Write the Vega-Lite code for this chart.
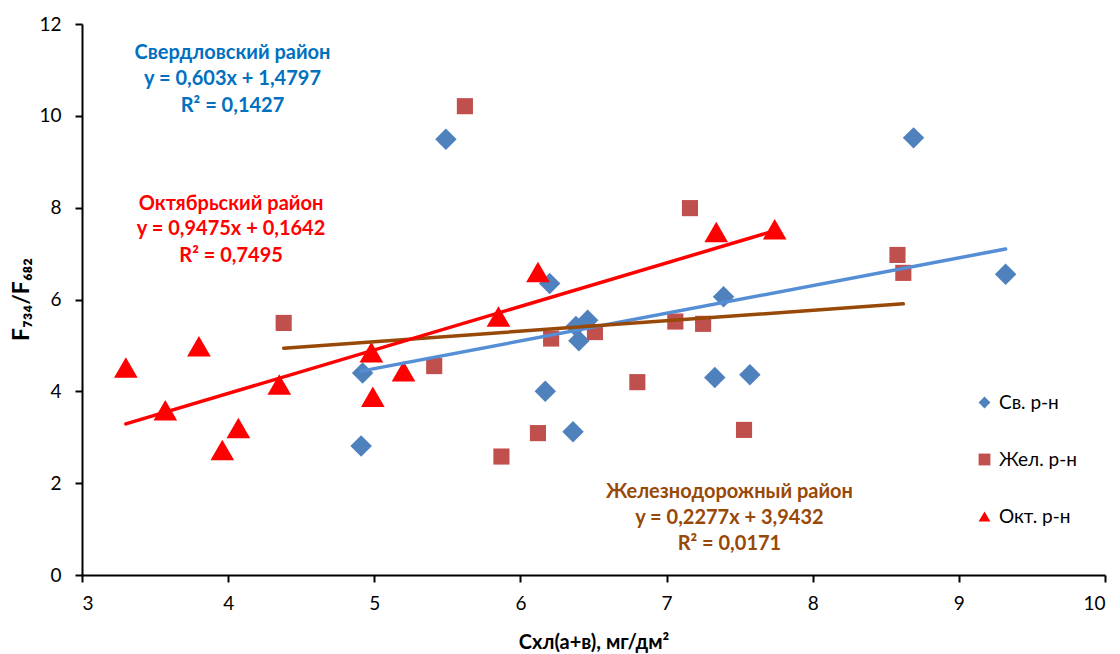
{
  "$schema": "https://vega.github.io/schema/vega-lite/v6.json",
  "width": 1023,
  "height": 551,
  "autosize": {"type": "none"},
  "padding": {"left": 82, "top": 24, "right": 15, "bottom": 79},
  "background": "white",
  "config": {
    "view": {"stroke": null},
    "font": "Lato",
    "legend": {
      "title": null, "orient": "none", "legendX": 893, "legendY": 369,
      "labelFontSize": 19, "labelColor": "black", "symbolSize": 140,
      "rowPadding": 37, "labelOffset": 5, "symbolStrokeWidth": 0
    }
  },
  "datasets": {
    "points": [
      {"series": "Св. р-н", "x": 4.91, "y": 2.81},
      {"series": "Св. р-н", "x": 4.92, "y": 4.40},
      {"series": "Св. р-н", "x": 5.49, "y": 9.49},
      {"series": "Св. р-н", "x": 6.20, "y": 6.35},
      {"series": "Св. р-н", "x": 6.17, "y": 4.00},
      {"series": "Св. р-н", "x": 6.36, "y": 3.12},
      {"series": "Св. р-н", "x": 6.40, "y": 5.10},
      {"series": "Св. р-н", "x": 6.38, "y": 5.41},
      {"series": "Св. р-н", "x": 6.46, "y": 5.55},
      {"series": "Св. р-н", "x": 7.39, "y": 6.06},
      {"series": "Св. р-н", "x": 7.33, "y": 4.30},
      {"series": "Св. р-н", "x": 7.57, "y": 4.36},
      {"series": "Св. р-н", "x": 8.69, "y": 9.52},
      {"series": "Св. р-н", "x": 9.32, "y": 6.55},
      {"series": "Жел. р-н", "x": 4.38, "y": 5.49},
      {"series": "Жел. р-н", "x": 5.41, "y": 4.55},
      {"series": "Жел. р-н", "x": 5.62, "y": 10.21},
      {"series": "Жел. р-н", "x": 5.87, "y": 2.58},
      {"series": "Жел. р-н", "x": 6.12, "y": 3.09},
      {"series": "Жел. р-н", "x": 6.21, "y": 5.15},
      {"series": "Жел. р-н", "x": 6.51, "y": 5.29},
      {"series": "Жел. р-н", "x": 6.80, "y": 4.20},
      {"series": "Жел. р-н", "x": 7.06, "y": 5.52},
      {"series": "Жел. р-н", "x": 7.16, "y": 7.99},
      {"series": "Жел. р-н", "x": 7.25, "y": 5.47},
      {"series": "Жел. р-н", "x": 7.53, "y": 3.16},
      {"series": "Жел. р-н", "x": 8.58, "y": 6.97},
      {"series": "Жел. р-н", "x": 8.62, "y": 6.58},
      {"series": "Окт. р-н", "x": 3.30, "y": 4.52},
      {"series": "Окт. р-н", "x": 3.57, "y": 3.59},
      {"series": "Окт. р-н", "x": 3.80, "y": 4.98},
      {"series": "Окт. р-н", "x": 3.96, "y": 2.72},
      {"series": "Окт. р-н", "x": 4.07, "y": 3.20},
      {"series": "Окт. р-н", "x": 4.35, "y": 4.15},
      {"series": "Окт. р-н", "x": 4.98, "y": 4.85},
      {"series": "Окт. р-н", "x": 4.99, "y": 3.88},
      {"series": "Окт. р-н", "x": 5.20, "y": 4.44},
      {"series": "Окт. р-н", "x": 5.85, "y": 5.63},
      {"series": "Окт. р-н", "x": 6.12, "y": 6.60},
      {"series": "Окт. р-н", "x": 7.34, "y": 7.47},
      {"series": "Окт. р-н", "x": 7.74, "y": 7.53}
    ],
    "trends": [
      {"series": "Св. р-н", "x": 4.91, "y": 4.440},
      {"series": "Св. р-н", "x": 9.32, "y": 7.100},
      {"series": "Жел. р-н", "x": 4.38, "y": 4.940},
      {"series": "Жел. р-н", "x": 8.62, "y": 5.906},
      {"series": "Окт. р-н", "x": 3.30, "y": 3.291},
      {"series": "Окт. р-н", "x": 7.74, "y": 7.498}
    ],
    "labelsSv": [
      {"x": 4.03, "y": 11.24, "text": "Свердловский район"},
      {"x": 4.03, "y": 10.68, "text": "y = 0,603x + 1,4797"},
      {"x": 4.03, "y": 10.09, "text": "R² = 0,1427"}
    ],
    "labelsOkt": [
      {"x": 4.02, "y": 7.95, "text": "Октябрьский район"},
      {"x": 4.02, "y": 7.40, "text": "y = 0,9475x + 0,1642"},
      {"x": 4.02, "y": 6.82, "text": "R² = 0,7495"}
    ],
    "labelsZh": [
      {"x": 7.43, "y": 1.67, "text": "Железнодорожный район"},
      {"x": 7.43, "y": 1.12, "text": "y = 0,2277x + 3,9432"},
      {"x": 7.43, "y": 0.54, "text": "R² = 0,0171"}
    ]
  },
  "encoding": {
    "x": {
      "field": "x", "type": "quantitative",
      "scale": {"domain": [3, 10], "nice": false, "zero": false},
      "axis": {
        "values": [3, 4, 5, 6, 7, 8, 9, 10],
        "format": "d",
        "title": "Схл(а+в), мг/дм²",
        "grid": false,
        "domainColor": "black", "domainWidth": 2,
        "tickColor": "black", "tickWidth": 2, "tickSize": 7,
        "labelFontSize": 19, "labelColor": "black", "labelPadding": 12,
        "titleFontSize": 20, "titleFontWeight": "bold", "titleColor": "black",
        "titleBaseline": "alphabetic", "titleY": 73
      }
    },
    "y": {
      "field": "y", "type": "quantitative",
      "scale": {"domain": [0, 12], "nice": false, "zero": true},
      "axis": {
        "values": [0, 2, 4, 6, 8, 10, 12],
        "format": "d",
        "title": "F₇₃₄/F₆₈₂",
        "grid": false,
        "domainColor": "black", "domainWidth": 2,
        "tickColor": "black", "tickWidth": 2, "tickSize": 7,
        "labelFontSize": 19, "labelColor": "black", "labelPadding": 14,
        "titleFontSize": 23, "titleFontWeight": "bold", "titleColor": "black",
        "titleBaseline": "alphabetic", "titleX": -54, "titleY": 275, "titleAngle": -90
      }
    }
  },
  "layer": [
    {
      "data": {"name": "points"},
      "transform": [{"filter": "datum.series === 'Св. р-н'"}],
      "mark": {"type": "point", "filled": true, "opacity": 1, "size": 460},
      "encoding": {
        "color": {"field": "series", "type": "nominal", "scale": {"domain": ["Св. р-н", "Жел. р-н", "Окт. р-н"], "range": ["#4F81BD", "#C0504D", "#FF0000"]}},
        "shape": {"field": "series", "type": "nominal", "scale": {"domain": ["Св. р-н", "Жел. р-н", "Окт. р-н"], "range": ["diamond", "square", "triangle-up"]}}
      }
    },
    {
      "data": {"name": "points"},
      "transform": [{"filter": "datum.series === 'Жел. р-н'"}],
      "mark": {"type": "point", "filled": true, "opacity": 1, "size": 260},
      "encoding": {
        "color": {"field": "series", "type": "nominal"},
        "shape": {"field": "series", "type": "nominal"}
      }
    },
    {
      "data": {"name": "points"},
      "transform": [{"filter": "datum.series === 'Окт. р-н'"}],
      "mark": {"type": "point", "filled": true, "opacity": 1, "size": 560},
      "encoding": {
        "color": {"field": "series", "type": "nominal"},
        "shape": {"field": "series", "type": "nominal"}
      }
    },
    {
      "data": {"name": "trends"},
      "transform": [{"filter": "datum.series === 'Св. р-н'"}],
      "mark": {"type": "line", "strokeWidth": 3.5, "strokeCap": "round", "color": "#558ED5"}
    },
    {
      "data": {"name": "trends"},
      "transform": [{"filter": "datum.series === 'Жел. р-н'"}],
      "mark": {"type": "line", "strokeWidth": 3.5, "strokeCap": "round", "color": "#984807"}
    },
    {
      "data": {"name": "trends"},
      "transform": [{"filter": "datum.series === 'Окт. р-н'"}],
      "mark": {"type": "line", "strokeWidth": 3.5, "strokeCap": "round", "color": "#FF0000"}
    },
    {
      "data": {"name": "labelsSv"},
      "mark": {"type": "text", "fontWeight": "bold", "fontSize": 20, "color": "#0070C0", "align": "center", "baseline": "alphabetic"},
      "encoding": {"text": {"field": "text"}}
    },
    {
      "data": {"name": "labelsOkt"},
      "mark": {"type": "text", "fontWeight": "bold", "fontSize": 20, "color": "#FF0000", "align": "center", "baseline": "alphabetic"},
      "encoding": {"text": {"field": "text"}}
    },
    {
      "data": {"name": "labelsZh"},
      "mark": {"type": "text", "fontWeight": "bold", "fontSize": 20, "color": "#984807", "align": "center", "baseline": "alphabetic"},
      "encoding": {"text": {"field": "text"}}
    }
  ]
}
